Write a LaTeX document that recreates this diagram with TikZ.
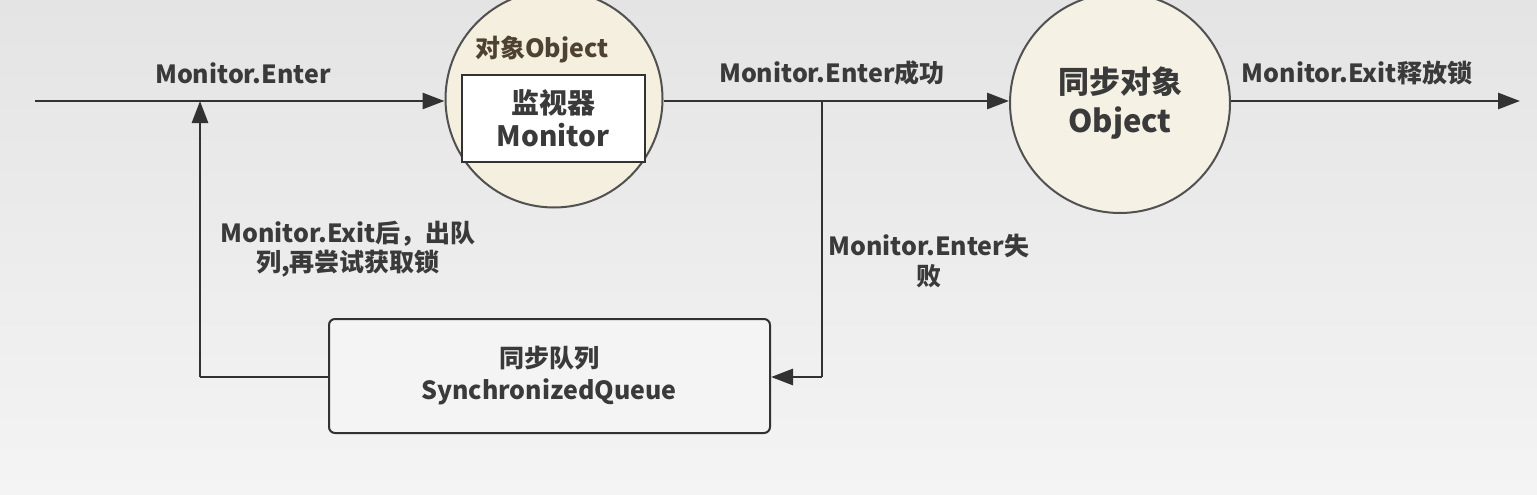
\documentclass[tikz,border=0pt]{standalone}
\usepackage{fontspec}
\setmainfont{Noto Sans CJK SC}
\usetikzlibrary{arrows.meta}
\definecolor{bgtop}{RGB}{228,228,228}
\definecolor{bgbot}{RGB}{244,244,244}
\definecolor{cream}{RGB}{244,239,222}
\definecolor{cream2}{RGB}{245,241,228}
\definecolor{ink}{RGB}{50,50,50}
\definecolor{txt}{RGB}{58,58,58}
\definecolor{brownink}{RGB}{80,66,50}
\begin{document}
\begin{tikzpicture}[x=1pt,y=-1pt,
  conn/.style={draw=ink,line width=2.8pt,-{Triangle[length=22pt,width=16pt]}},
  plain/.style={draw=ink,line width=2.8pt},
  lbl/.style={text=txt,font=\fontsize{25}{29}\selectfont\bfseries,inner sep=0pt},
  circ/.style={circle,draw=ink!85,line width=2pt,minimum size=#1,inner sep=0pt},
]
\useasboundingbox (0,0) rectangle (1537,495);
\shade[top color=bgtop,bottom color=bgbot] (0,0) rectangle (1537,495);
% circles
\node[circ=217pt,fill=cream] (c1) at (554,99) {};
\node[draw=ink,line width=2pt,fill=white,minimum width=183pt,minimum height=87pt,inner sep=0pt] (mon) at (553.5,118.5) {};
\node[lbl,text=brownink] (objlbl) at (542,50) {对象Object};
\node[lbl,font=\fontsize{28}{33}\selectfont\bfseries,align=center] (montxt) at (553,118) {监视器\\Monitor};
\node[circ=220pt,fill=cream2] (c2) at (1120,103) {};
\node[lbl,font=\fontsize{31}{39}\selectfont\bfseries,align=center] (c2txt) at (1120,103) {同步对象\\Object};
% queue box
\node[draw=ink,line width=2pt,rounded corners=6pt,fill=bgbot,minimum width=441pt,minimum height=114pt,inner sep=0pt] (queue) at (549.5,376) {};
\node[lbl,align=center,font=\fontsize{25}{32}\selectfont\bfseries] (qtxt) at (549,376) {同步队列\\SynchronizedQueue};
% coordinates
\coordinate (start) at (35,101);
\coordinate (end) at (1520,101);
\coordinate (j1) at (200,101);
\coordinate (j1b) at (200,377);
\coordinate (j2) at (822,101);
\coordinate (j2b) at (822,377);
% connectors
\draw[conn] (start) -- (c1.west |- start);
\draw[conn] (c1.east |- j2) -- (c2.west |- j2);
\draw[conn] (c2.east |- end) -- (end);
\draw[plain] (j2) -- (j2b);
\draw[conn] (j2b) -- (queue.east |- j2b);
\draw[plain] (queue.west |- j1b) -- (j1b);
\draw[conn] (j1b) -- (j1);
% labels
\node[lbl] (l1) at (243,73) {Monitor.Enter};
\node[lbl] (l2) at (832,73) {Monitor.Enter成功};
\node[lbl] (l3) at (1357,73) {Monitor.Exit释放锁};
\node[lbl,align=center] (l4) at (348,249.5) {Monitor.Exit后，出队\\列,再尝试获取锁};
\node[lbl,align=center,font=\fontsize{25}{30}\selectfont\bfseries] (l5) at (929,261) {Monitor.Enter失\\败};
\end{tikzpicture}
\end{document}
